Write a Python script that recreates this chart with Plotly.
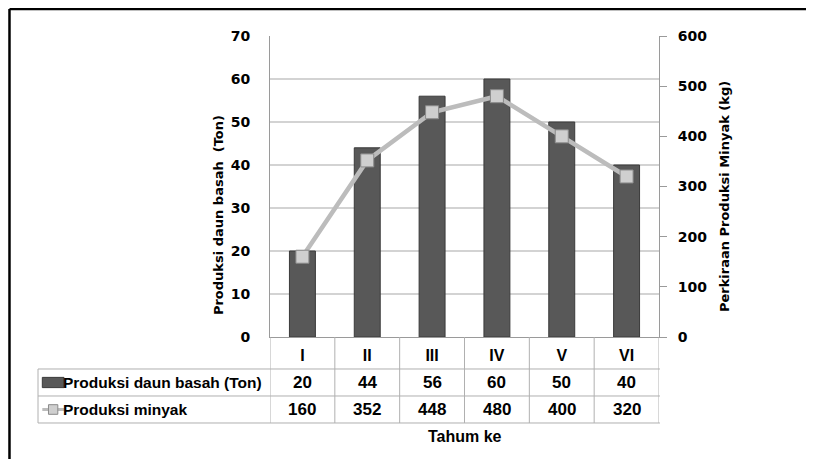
import plotly.graph_objects as go

categories = ["I", "II", "III", "IV", "V", "VI"]
daun_basah = [20, 44, 56, 60, 50, 40]
minyak = [160, 352, 448, 480, 400, 320]
left_ticks = [0, 10, 20, 30, 40, 50, 60, 70]
right_ticks = [0, 100, 200, 300, 400, 500, 600]
series_names = ["Produksi daun basah (Ton)", "Produksi minyak"]

TFONT = "Liberation Sans, Arial, sans-serif"
BOLDF = "DejaVu Sans, Verdana, sans-serif"
GRID = "#c4c4c4"
TBL = "#b0b0b0"

fig = go.Figure()
fig.add_trace(go.Bar(
    x=categories, y=daun_basah, name=series_names[0], width=0.4,
    marker=dict(color="#585858", line=dict(color="#3a3a3a", width=1)),
    yaxis="y", showlegend=False,
))
fig.add_trace(go.Scatter(
    x=categories, y=minyak, name=series_names[1], mode="lines+markers",
    line=dict(color="#bcbcbc", width=4.5),
    marker=dict(symbol="square", size=13, color="#cfcfcf",
                line=dict(color="#8a8a8a", width=1)),
    yaxis="y2", showlegend=False,
))

shapes = []
for v in left_ticks[1:-1]:
    shapes.append(dict(type="line", xref="paper", yref="y", x0=0, x1=1, y0=v, y1=v,
                       line=dict(color=GRID, width=1.5), layer="below"))

row_lines = [-0.1063, -0.196, -0.2857]
left_ext = -0.5964
for yv in row_lines:
    shapes.append(dict(type="line", xref="paper", yref="paper",
                       x0=left_ext, x1=1.0025, y0=yv, y1=yv,
                       line=dict(color=TBL, width=1)))
for i in range(len(categories) + 1):
    shapes.append(dict(type="line", xref="x", yref="paper", x0=i - 0.5, x1=i - 0.5,
                       y0=0, y1=row_lines[-1], line=dict(color=TBL, width=1)))
shapes.append(dict(type="line", xref="paper", yref="paper", x0=left_ext, x1=left_ext,
                   y0=row_lines[0], y1=row_lines[-1], line=dict(color=TBL, width=1)))

sx0, sx1 = -0.5853, -0.5296
mid_r2 = (row_lines[0] + row_lines[1]) / 2
mid_r3 = (row_lines[1] + row_lines[2]) / 2
shapes.append(dict(type="rect", xref="paper", yref="paper", x0=sx0, x1=sx1,
                   y0=mid_r2 - 0.017, y1=mid_r2 + 0.017,
                   fillcolor="#585858", line=dict(color="#3a3a3a", width=1)))
shapes.append(dict(type="line", xref="paper", yref="paper", x0=sx0, x1=sx1,
                   y0=mid_r3, y1=mid_r3, line=dict(color="#bcbcbc", width=3)))
cx = (sx0 + sx1) / 2
shapes.append(dict(type="rect", xref="paper", yref="paper", x0=cx - 0.012, x1=cx + 0.012,
                   y0=mid_r3 - 0.016, y1=mid_r3 + 0.016,
                   fillcolor="#cfcfcf", line=dict(color="#8a8a8a", width=1)))

fx, fy = -0.6697, 1.0897
shapes.append(dict(type="line", xref="paper", yref="paper", x0=fx, x1=1.45,
                   y0=fy, y1=fy, line=dict(color="black", width=2.5)))
shapes.append(dict(type="line", xref="paper", yref="paper", x0=fx, x1=fx,
                   y0=fy, y1=-0.45, line=dict(color="black", width=2.5)))

annotations = []
tfont = dict(family=TFONT, size=17, color="black", weight="bold")
lfont = dict(family=TFONT, size=15.5, color="black", weight="bold")
for c, v1, v2 in zip(categories, daun_basah, minyak):
    annotations.append(dict(x=c, xref="x", y=mid_r2, yref="paper", text=str(v1),
                            showarrow=False, font=tfont, xanchor="center", yanchor="middle"))
    annotations.append(dict(x=c, xref="x", y=mid_r3, yref="paper", text=str(v2),
                            showarrow=False, font=tfont, xanchor="center", yanchor="middle"))
annotations.append(dict(x=-0.537, xref="paper", y=mid_r2, yref="paper", text=series_names[0],
                        showarrow=False, font=lfont, xanchor="left", yanchor="middle"))
annotations.append(dict(x=-0.537, xref="paper", y=mid_r3, yref="paper", text=series_names[1],
                        showarrow=False, font=lfont, xanchor="left", yanchor="middle"))
annotations.append(dict(x=0.502, xref="paper", y=-0.332, yref="paper", text="Tahum ke",
                        showarrow=False, font=dict(family=TFONT, size=16, color="black", weight="bold"),
                        xanchor="center", yanchor="middle"))
annotations.append(dict(x=-0.1337, xref="paper", y=0.405, yref="paper",
                        text="Produksi daun basah  (Ton)", textangle=-90, showarrow=False,
                        font=dict(family=BOLDF, size=13, color="black", weight="bold"),
                        xanchor="center", yanchor="middle"))
annotations.append(dict(x=1.167, xref="paper", y=0.468, yref="paper",
                        text="Perkiraan Produksi Minyak (kg)", textangle=-90, showarrow=False,
                        font=dict(family=BOLDF, size=13, color="black", weight="bold"),
                        xanchor="center", yanchor="middle"))

fig.update_layout(
    width=814, height=459,
    margin=dict(l=262, r=163, t=28, b=130, pad=0),
    paper_bgcolor="white", plot_bgcolor="white",
    shapes=shapes, annotations=annotations,
    xaxis=dict(type="category", range=[-0.5, 5.5], showgrid=False, showline=True,
               linecolor="#9a9a9a", linewidth=1, ticks="", ticklabelstandoff=4,
               tickfont=dict(family=TFONT, size=16, color="black", weight="bold")),
    yaxis=dict(range=[0, 70], tickvals=left_ticks, showgrid=False, showline=True,
               linecolor="#9a9a9a", linewidth=1, ticks="", zeroline=False,
               ticklabelstandoff=16,
               tickfont=dict(family=BOLDF, size=14, color="black", weight="bold")),
    yaxis2=dict(range=[0, 600], tickvals=right_ticks, overlaying="y", side="right",
                showgrid=False, showline=True, linecolor="#9a9a9a", linewidth=1,
                ticks="outside", ticklen=7, tickcolor="#9a9a9a", zeroline=False,
                ticklabelstandoff=8,
                tickfont=dict(family=BOLDF, size=14, color="black", weight="bold")),
)

fig.write_html("out.html")
